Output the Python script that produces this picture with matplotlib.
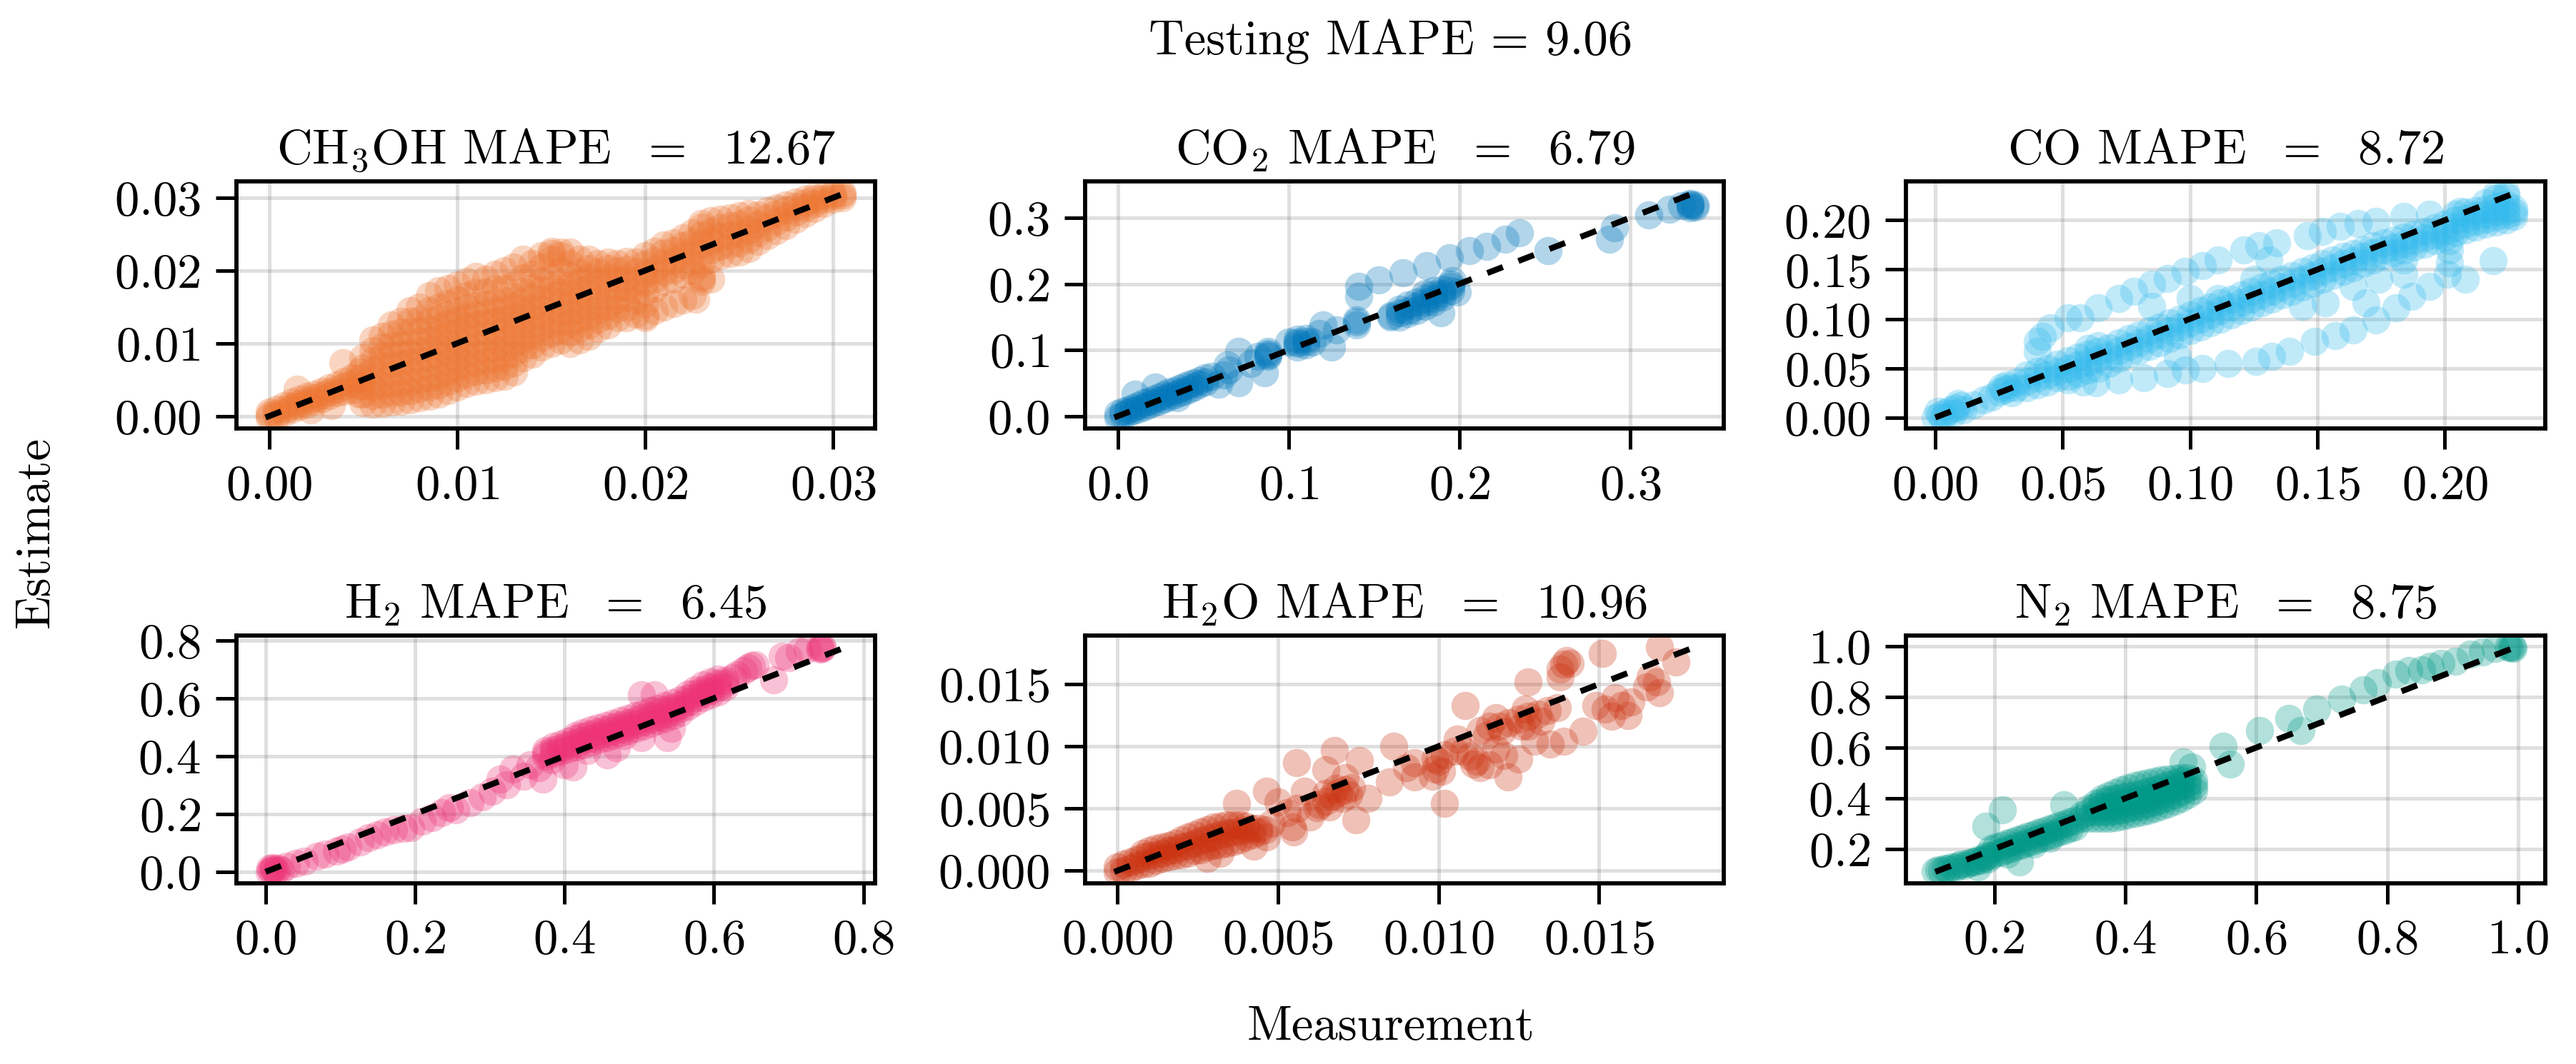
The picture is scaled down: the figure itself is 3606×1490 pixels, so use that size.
import numpy as np
import matplotlib
matplotlib.use("Agg")
import matplotlib.pyplot as plt

plt.rcParams.update({
    "font.family": "serif",
    "font.serif": ["cmr10"],
    "mathtext.fontset": "cm",
    "axes.unicode_minus": False,
    "axes.formatter.use_mathtext": True,
    "font.size": 16.5,
    "axes.titlesize": 16.5,
})

OVERALL_MAPE = "9.06"
SPECIES = [r"CH$_3$OH", r"CO$_2$", "CO", r"H$_2$", r"H$_2$O", r"N$_2$"]
MAPES = ["12.67", "6.79", "8.72", "6.45", "10.96", "8.75"]
COLORS = ["#EE7733", "#0077BB", "#33BBEE", "#EE3377", "#CC3311", "#009988"]
TICKS = [
    [0.0, 0.01, 0.02, 0.03],
    [0.0, 0.1, 0.2, 0.3],
    [0.0, 0.05, 0.10, 0.15, 0.20],
    [0.0, 0.2, 0.4, 0.6, 0.8],
    [0.0, 0.005, 0.010, 0.015],
    [0.2, 0.4, 0.6, 0.8, 1.0],
]

# CH3OH values are in units of 1e-3
CH3OH_SCALE = 1e-3
CH3OH_COLS = [
    (0.0, [-0.2, 0.2, 0.6]), (0.4, [0.0, 0.4, 0.9]), (0.8, [0.5, 0.9, 1.4]),
    (1.2, [0.9, 1.3, 1.9]), (1.6, [1.3, 1.7, 2.3]), (2.0, [1.6, 2.1, 2.7]),
    (2.4, [2.0, 2.5, 3.0]), (2.8, [2.4, 2.9, 3.4]), (3.2, [2.8, 3.3, 3.9]),
    (3.6, [3.2, 3.7, 4.3]), (4.0, [3.4, 4.1, 4.8]), (4.4, [3.6, 4.5, 5.3]),
    (4.8, [3.0, 4.2, 5.2, 6.0]),
    (5.0, [1.8, 3.0, 4.2, 5.4, 6.6, 8.0]),
    (5.5, [1.6, 2.8, 4.0, 5.2, 6.4, 7.6, 9.0, 10.5]),
    (6.0, [1.7, 3.0, 4.3, 5.6, 6.9, 8.2, 9.5, 11.0]),
    (6.5, [1.9, 3.2, 4.5, 5.8, 7.1, 8.4, 9.7, 11.2, 12.5]),
    (7.0, [2.0, 3.3, 4.6, 5.9, 7.2, 8.5, 9.8, 11.5, 13.0]),
    (7.5, [2.2, 3.5, 4.8, 6.1, 7.4, 8.7, 10.0, 11.5, 13.0, 14.5]),
    (8.0, [2.5, 3.8, 5.1, 6.4, 7.7, 9.0, 10.3, 11.6, 13.2, 15.0]),
    (8.5, [2.7, 4.0, 5.3, 6.6, 7.9, 9.2, 10.5, 11.8, 13.0, 14.5, 16.5]),
    (9.0, [3.0, 4.3, 5.6, 6.9, 8.2, 9.5, 10.8, 12.1, 13.4, 15.0, 17.2]),
    (9.5, [3.5, 4.8, 6.1, 7.4, 8.7, 10.0, 11.3, 12.6, 13.9, 15.5, 17.5]),
    (10.0, [4.0, 5.3, 6.6, 7.9, 9.2, 10.5, 11.8, 13.1, 14.4, 16.0, 18.0]),
    (10.5, [4.5, 5.8, 7.1, 8.4, 9.7, 11.0, 12.3, 13.6, 14.9, 16.5, 18.5]),
    (11.0, [4.8, 6.1, 7.4, 8.7, 10.0, 11.3, 12.6, 13.9, 15.2, 17.0, 19.2]),
    (11.5, [5.0, 6.3, 7.6, 8.9, 10.2, 11.5, 12.8, 14.1, 15.4, 17.0, 18.8]),
    (12.0, [5.3, 6.6, 7.9, 9.2, 10.5, 11.8, 13.1, 14.4, 15.7, 17.5, 19.5]),
    (12.5, [5.5, 6.8, 8.1, 9.4, 10.7, 12.0, 13.3, 14.6, 15.9, 17.5, 20.0]),
    (13.0, [6.0, 7.3, 8.6, 9.9, 11.2, 12.5, 13.8, 15.1, 16.4, 18.0, 20.5]),
    (13.5, [8.0, 9.3, 10.6, 11.9, 13.2, 14.5, 15.8, 17.1, 19.0, 21.5]),
    (14.0, [8.5, 9.8, 11.1, 12.4, 13.7, 15.0, 16.3, 17.6, 19.5, 21.0]),
    (14.5, [9.5, 10.8, 12.1, 13.4, 14.7, 16.0, 17.3, 18.6, 20.5, 22.0]),
    (15.0, [10.0, 11.3, 12.6, 13.9, 15.2, 16.5, 17.8, 19.0, 21.5, 22.3, 22.6]),
    (15.5, [10.5, 11.8, 13.1, 14.4, 15.7, 17.0, 18.3, 20.0, 22.0, 22.5]),
    (16.0, [10.0, 11.5, 12.8, 14.1, 15.4, 16.7, 18.0, 19.3, 21.0, 22.5]),
    (16.5, [10.5, 12.0, 13.3, 14.6, 15.9, 17.2, 18.5, 19.8, 21.5]),
    (17.0, [11.0, 12.5, 13.8, 15.1, 16.4, 17.7, 19.0, 20.3, 21.5]),
    (17.5, [12.0, 13.3, 14.6, 15.9, 17.2, 18.5, 19.8, 21.0]),
    (18.0, [12.5, 13.8, 15.1, 16.4, 17.7, 19.0, 20.3, 21.2]),
    (18.5, [13.5, 14.8, 16.1, 17.4, 18.7, 20.0, 21.0]),
    (19.0, [13.5, 15.0, 16.3, 17.6, 18.9, 20.2, 21.3]),
    (19.5, [14.0, 16.0, 17.3, 18.6, 19.9, 21.2]),
    (20.0, [13.5, 15.5, 17.0, 18.3, 19.6, 20.9, 22.0]),
    (20.5, [14.5, 17.5, 18.8, 20.1, 21.4, 22.6]),
    (21.0, [15.0, 18.5, 19.8, 21.1, 22.4, 23.5]),
    (21.5, [15.5, 18.8, 20.1, 21.4, 22.7, 23.8]),
    (22.0, [16.0, 19.5, 20.8, 22.1, 23.4, 24.5]),
    (22.5, [16.5, 20.0, 21.3, 22.6, 23.9, 25.2]),
    (23.0, [18.5, 18.9, 19.2, 21.0, 22.3, 23.6, 24.9, 26.0, 26.5]),
    (23.5, [18.8, 21.5, 22.8, 24.1, 25.4, 26.8]),
    (24.0, [22.0, 23.3, 24.6, 25.9, 27.0]),
    (24.5, [22.3, 23.6, 24.9, 26.2, 27.2]),
    (25.0, [22.5, 23.8, 25.1, 26.4, 27.5]),
    (25.5, [23.0, 24.3, 25.6, 26.9, 27.8]),
    (26.0, [24.0, 25.2, 26.4, 27.6]),
    (26.5, [24.8, 26.0, 27.2, 28.2]),
    (27.0, [25.5, 26.7, 27.8, 28.6]),
    (27.5, [26.2, 27.3, 28.3, 29.0]),
    (28.0, [27.0, 28.0, 28.8, 29.4]),
    (28.5, [27.8, 28.6, 29.3, 29.8]),
    (29.0, [28.5, 29.2, 29.8, 30.2]),
    (29.5, [29.2, 29.8, 30.3]),
    (30.0, [29.8, 30.3, 30.6]),
    (30.5, [30.0, 30.4, 30.7]),
]
CH3OH_EXTRA = [(1.5, 3.7), (3.9, 7.3), (2.2, 0.8), (3.3, 1.4), (22.7, 16.1), (20.0, 13.8)]

CO2_COLS = [
    (0.000, [-0.002, 0.004]), (0.003, [0.002, 0.007]), (0.006, [0.005, 0.010]),
    (0.009, [0.008, 0.013]), (0.012, [0.011, 0.016]), (0.015, [0.014, 0.020]),
    (0.018, [0.017, 0.023]), (0.021, [0.020, 0.026]), (0.024, [0.023, 0.029]),
    (0.027, [0.026, 0.032]), (0.030, [0.029, 0.036]), (0.033, [0.032, 0.039]),
    (0.036, [0.035, 0.042]), (0.039, [0.038, 0.045]), (0.042, [0.041, 0.048]),
    (0.045, [0.044, 0.051]), (0.048, [0.048, 0.054]), (0.051, [0.052, 0.058]),
    (0.088, [0.090, 0.093, 0.095, 0.098]),
    (0.105, [0.105, 0.110, 0.112, 0.116]), (0.110, [0.108, 0.113, 0.118]),
    (0.140, [0.138, 0.142, 0.145]),
    (0.160, [0.150, 0.152]), (0.165, [0.150, 0.156, 0.162]), (0.170, [0.155, 0.160, 0.168]),
    (0.175, [0.160, 0.166, 0.172]), (0.180, [0.166, 0.172, 0.178, 0.186]),
    (0.185, [0.172, 0.178, 0.184, 0.190]), (0.190, [0.180, 0.186, 0.192]),
    (0.195, [0.190, 0.196, 0.200]),
    (0.335, [0.315, 0.318, 0.320, 0.322]), (0.338, [0.316, 0.319]),
]
CO2_EXTRA = [
    (0.010, 0.033), (0.022, 0.044), (0.059, 0.048), (0.071, 0.051), (0.064, 0.077),
    (0.071, 0.098), (0.086, 0.066), (0.062, 0.062), (0.055, 0.060), (0.078, 0.080),
    (0.082, 0.090), (0.035, 0.028), (0.065, 0.070), (0.100, 0.112), (0.114, 0.112),
    (0.125, 0.105), (0.120, 0.138), (0.118, 0.125), (0.128, 0.130),
    (0.189, 0.156), (0.199, 0.188), (0.196, 0.205),
    (0.141, 0.181), (0.141, 0.196), (0.153, 0.206), (0.167, 0.217), (0.181, 0.228),
    (0.194, 0.239), (0.206, 0.250), (0.216, 0.257), (0.227, 0.268), (0.235, 0.277),
    (0.252, 0.250), (0.288, 0.268), (0.291, 0.285), (0.311, 0.304), (0.323, 0.313),
    (0.330, 0.318),
]

CO_COLS = [
    (0.000, [0.000]), (0.002, [0.003]), (0.004, [0.005]), (0.006, [0.008]),
    (0.008, [0.010]), (0.010, [0.012]), (0.003, [0.000]), (0.007, [0.004]),
    (0.011, [0.008]), (0.001, [0.006]), (0.009, [0.014]),
    (0.025, [0.026]), (0.027, [0.028]), (0.029, [0.030]), (0.026, [0.031]),
    (0.030, [0.025]), (0.028, [0.033]),
    (0.032, [0.030, 0.036]), (0.036, [0.030, 0.037, 0.043]),
    (0.040, [0.033, 0.040, 0.047]), (0.044, [0.036, 0.043, 0.050]),
    (0.048, [0.040, 0.047, 0.054]), (0.052, [0.042, 0.050, 0.058]),
    (0.056, [0.045, 0.053, 0.061]), (0.060, [0.048, 0.056, 0.064, 0.070]),
    (0.064, [0.050, 0.059, 0.067, 0.073]), (0.068, [0.055, 0.063, 0.071]),
    (0.072, [0.060, 0.068, 0.076]), (0.076, [0.064, 0.072, 0.080]),
    (0.080, [0.068, 0.076, 0.084]), (0.084, [0.072, 0.080, 0.088]),
    (0.088, [0.076, 0.084, 0.092]), (0.092, [0.080, 0.088, 0.096]),
    (0.096, [0.084, 0.092, 0.100]), (0.100, [0.088, 0.096, 0.104]),
    (0.104, [0.092, 0.100, 0.108]), (0.108, [0.096, 0.104, 0.112]),
    (0.112, [0.100, 0.108, 0.116]), (0.116, [0.104, 0.112, 0.120]),
    (0.120, [0.108, 0.116, 0.124]), (0.124, [0.112, 0.120, 0.128]),
    (0.128, [0.116, 0.124, 0.132]), (0.132, [0.120, 0.128, 0.136]),
    (0.136, [0.124, 0.132, 0.140]), (0.140, [0.128, 0.136, 0.144]),
    (0.144, [0.132, 0.140, 0.148]), (0.148, [0.136, 0.144, 0.152]),
    (0.152, [0.140, 0.148, 0.156]), (0.156, [0.144, 0.152, 0.160]),
    (0.160, [0.148, 0.156, 0.163]), (0.164, [0.152, 0.159, 0.166]),
    (0.168, [0.156, 0.163, 0.170]), (0.172, [0.160, 0.167, 0.174]),
    (0.176, [0.164, 0.170, 0.177]), (0.180, [0.167, 0.173, 0.180]),
    (0.184, [0.170, 0.176, 0.183]), (0.188, [0.173, 0.179, 0.186]),
    (0.192, [0.176, 0.182, 0.189]), (0.196, [0.179, 0.185, 0.192]),
    (0.200, [0.183, 0.189, 0.196]), (0.204, [0.187, 0.193, 0.200, 0.206]),
    (0.208, [0.190, 0.196, 0.202, 0.208]), (0.212, [0.193, 0.199, 0.205, 0.210]),
    (0.216, [0.196, 0.201, 0.206, 0.211, 0.218]),
    (0.220, [0.198, 0.203, 0.208, 0.214, 0.222, 0.226]),
    (0.224, [0.200, 0.205, 0.210, 0.216, 0.224, 0.228]),
    (0.227, [0.204, 0.208, 0.212]),
]
CO_EXTRA = [
    (0.015, 0.013), (0.019, 0.018), (0.022, 0.021),
    # upper arc
    (0.040, 0.067), (0.040, 0.077), (0.042, 0.082), (0.045, 0.091), (0.052, 0.101),
    (0.057, 0.101), (0.064, 0.111), (0.072, 0.121), (0.078, 0.128), (0.085, 0.135),
    (0.091, 0.141), (0.098, 0.148), (0.105, 0.154), (0.111, 0.160), (0.121, 0.170),
    (0.127, 0.174), (0.134, 0.177), (0.146, 0.184), (0.152, 0.189), (0.159, 0.194),
    (0.166, 0.197), (0.173, 0.199), (0.184, 0.204), (0.194, 0.206), (0.206, 0.209),
    # lower arc
    (0.052, 0.038), (0.058, 0.036), (0.063, 0.035), (0.072, 0.038), (0.082, 0.040),
    (0.091, 0.045), (0.098, 0.048), (0.105, 0.050), (0.115, 0.055), (0.126, 0.057),
    (0.132, 0.062), (0.139, 0.067), (0.149, 0.077), (0.157, 0.083), (0.164, 0.089),
    (0.173, 0.099), (0.181, 0.111), (0.187, 0.123), (0.194, 0.133), (0.201, 0.145),
    (0.202, 0.157), (0.202, 0.170), (0.202, 0.179),
    # scattered
    (0.208, 0.140), (0.219, 0.159), (0.169, 0.116), (0.164, 0.133), (0.174, 0.140),
    (0.153, 0.116), (0.125, 0.140), (0.131, 0.160), (0.111, 0.121), (0.100, 0.121),
    (0.095, 0.062), (0.085, 0.113), (0.144, 0.113), (0.184, 0.160), (0.184, 0.145),
]

H2_COLS = [
    (0.375, [0.400, 0.410, 0.420]), (0.385, [0.410, 0.422, 0.434]),
    (0.395, [0.418, 0.430, 0.442]), (0.405, [0.425, 0.438, 0.452]),
    (0.415, [0.432, 0.446, 0.460, 0.472]), (0.425, [0.440, 0.454, 0.468, 0.482]),
    (0.435, [0.448, 0.462, 0.476, 0.490]), (0.445, [0.456, 0.470, 0.484, 0.498]),
    (0.455, [0.464, 0.478, 0.492, 0.506]), (0.465, [0.472, 0.486, 0.500, 0.514]),
    (0.475, [0.480, 0.494, 0.508, 0.522]), (0.485, [0.488, 0.502, 0.516, 0.530]),
    (0.495, [0.496, 0.510, 0.524, 0.540]), (0.505, [0.504, 0.518, 0.532, 0.548]),
    (0.515, [0.513, 0.527, 0.541, 0.557]), (0.525, [0.522, 0.536, 0.550, 0.566]),
    (0.535, [0.531, 0.545, 0.559, 0.575]), (0.545, [0.540, 0.554, 0.568, 0.584]),
    (0.555, [0.550, 0.564, 0.578, 0.594]), (0.565, [0.572, 0.586, 0.600, 0.615]),
    (0.575, [0.588, 0.602, 0.616, 0.630]), (0.585, [0.602, 0.616, 0.630, 0.645]),
    (0.595, [0.612, 0.626, 0.640, 0.655]), (0.605, [0.622, 0.636, 0.650, 0.665]),
    (0.615, [0.638, 0.650, 0.662]),
    (0.645, [0.705]), (0.650, [0.712]), (0.655, [0.715]), (0.640, [0.695]),
    (0.742, [0.770, 0.774]), (0.745, [0.772, 0.777]),
]
H2_EXTRA = [
    (0.005, 0.000), (0.008, 0.005), (0.011, 0.010), (0.014, 0.004), (0.017, 0.012),
    (0.020, 0.008), (0.010, 0.015), (0.006, 0.012),
    (0.028, 0.020), (0.040, 0.029), (0.052, 0.038), (0.069, 0.054), (0.080, 0.062),
    (0.095, 0.072), (0.103, 0.079), (0.110, 0.085), (0.126, 0.104), (0.138, 0.118),
    (0.149, 0.129), (0.160, 0.138), (0.171, 0.146), (0.185, 0.150), (0.194, 0.154),
    (0.210, 0.175), (0.223, 0.188), (0.235, 0.205), (0.246, 0.221), (0.255, 0.215),
    (0.274, 0.238), (0.290, 0.260), (0.303, 0.279), (0.314, 0.321), (0.322, 0.300),
    (0.331, 0.354), (0.345, 0.330), (0.354, 0.371), (0.365, 0.360), (0.371, 0.321),
    (0.383, 0.388), (0.411, 0.363), (0.400, 0.371),
    (0.457, 0.404), (0.503, 0.463), (0.537, 0.463), (0.543, 0.496), (0.503, 0.612),
    (0.520, 0.612), (0.480, 0.470), (0.430, 0.420), (0.470, 0.430),
    (0.625, 0.670), (0.630, 0.680), (0.680, 0.663), (0.691, 0.746), (0.714, 0.762),
    (0.700, 0.740), (0.725, 0.770),
]

# H2O values are in units of 1e-3
H2O_SCALE = 1e-3
H2O_COLS = [
    (0.0, [-0.1, 0.3]), (0.2, [0.0, 0.5]), (0.4, [0.2, 0.7]), (0.6, [0.4, 0.9]),
    (0.8, [0.5, 1.1, 1.4]), (1.0, [0.6, 1.2, 1.6]), (1.2, [0.8, 1.3, 1.8]),
    (1.4, [1.0, 1.4, 1.9]), (1.6, [1.1, 1.6, 2.0]), (1.8, [1.2, 1.7, 2.2]),
    (2.0, [1.3, 1.9, 2.5]), (2.2, [1.4, 2.0, 2.7]), (2.4, [1.6, 2.2, 2.9]),
    (2.6, [1.7, 2.4, 3.1]), (2.8, [1.9, 2.6, 3.3]), (3.0, [2.0, 2.7, 3.5]),
    (3.2, [2.1, 2.9, 3.6]), (3.4, [2.2, 3.0, 3.7]), (3.6, [2.3, 3.1, 3.7]),
    (3.8, [2.5, 3.2, 3.7]), (4.0, [2.7, 3.3, 3.6]), (4.2, [2.9, 3.4]),
    (4.4, [3.1, 3.4]), (4.6, [3.3]),
    (6.3, [5.3]), (6.5, [5.6]), (6.7, [6.0]), (6.9, [6.3]), (7.1, [6.5]), (7.3, [6.7]),
    (6.6, [5.1]), (7.0, [5.8]), (6.8, [6.6]), (7.2, [6.1]),
    (9.8, [7.6]), (9.9, [8.2, 9.0]), (10.0, [8.8]), (10.1, [8.0]), (10.2, [9.3]),
    (10.5, [9.6]), (10.8, [9.6]), (11.0, [9.2]), (11.1, [8.6]), (11.2, [8.8]), (11.3, [8.3]),
    (11.3, [11.3]), (11.6, [11.6]), (11.9, [11.6]), (12.2, [11.9]), (12.5, [12.2]),
    (12.8, [12.4]), (13.1, [12.6]), (13.4, [12.9]), (13.7, [13.1]), (11.5, [10.9]),
    (12.0, [11.2]), (12.6, [11.6]), (13.2, [12.0]), (11.8, [12.3]), (12.7, [13.0]),
    (13.9, [16.6]), (14.0, [16.9]), (14.1, [16.7]), (13.8, [16.2]),
]
H2O_EXTRA = [
    (4.25, 1.96), (3.19, 1.38), (4.64, 2.73), (2.8, 1.0), (4.8, 3.8),
    (3.72, 5.42), (4.64, 6.38), (5.57, 8.69), (6.75, 9.65), (6.49, 8.12), (7.55, 8.88),
    (5.83, 6.38), (5.30, 4.65), (5.44, 3.5), (5.5, 3.12), (6.23, 5.04), (6.49, 6.19),
    (7.42, 4.08), (7.81, 5.81), (8.47, 7.15), (9.0, 8.31), (9.26, 7.54), (10.18, 5.42),
    (10.84, 13.3), (8.6, 10.0), (9.26, 8.69), (5.0, 5.5), (5.6, 5.0), (7.1, 7.5), (6.0, 4.3),
    (12.16, 7.54), (12.03, 9.27), (13.48, 10.2), (12.8, 11.6), (12.8, 15.2), (11.6, 8.5),
    (12.5, 9.0), (13.0, 10.4), (14.5, 11.2), (13.9, 10.4), (11.8, 9.8), (10.6, 10.6),
    (15.1, 17.5), (16.9, 18.0), (17.4, 16.8), (13.8, 15.6),
    (14.9, 13.3), (15.5, 13.9), (15.7, 13.3), (16.5, 14.8), (16.8, 15.2), (16.9, 14.3),
    (15.9, 12.5), (15.2, 13.0), (16.0, 13.6), (15.4, 12.4), (16.6, 15.6),
]

N2_COLS = [
    (0.195, [0.175, 0.200]), (0.203, [0.183, 0.208]), (0.211, [0.190, 0.215]),
    (0.219, [0.197, 0.222]), (0.227, [0.204, 0.229]), (0.235, [0.211, 0.236]),
    (0.243, [0.218, 0.243]), (0.251, [0.225, 0.250]), (0.259, [0.232, 0.257]),
    (0.267, [0.239, 0.264]), (0.275, [0.246, 0.271]), (0.283, [0.253, 0.278]),
    (0.291, [0.260, 0.285]), (0.299, [0.267, 0.292]), (0.307, [0.274, 0.299]),
    (0.315, [0.281, 0.306]), (0.323, [0.288, 0.313]),
    (0.335, [0.320, 0.335]), (0.345, [0.320, 0.345, 0.360]),
    (0.355, [0.320, 0.345, 0.370, 0.380]),
    (0.365, [0.320, 0.345, 0.370, 0.390, 0.400]),
    (0.375, [0.320, 0.345, 0.370, 0.395, 0.412]),
    (0.385, [0.325, 0.350, 0.375, 0.400, 0.422]),
    (0.395, [0.330, 0.355, 0.380, 0.405, 0.433]),
    (0.405, [0.335, 0.360, 0.385, 0.410, 0.442]),
    (0.415, [0.340, 0.365, 0.390, 0.415, 0.450]),
    (0.425, [0.345, 0.370, 0.395, 0.420, 0.457]),
    (0.435, [0.352, 0.377, 0.402, 0.427, 0.462]),
    (0.445, [0.360, 0.385, 0.410, 0.435, 0.467]),
    (0.455, [0.368, 0.393, 0.418, 0.443, 0.472]),
    (0.465, [0.378, 0.403, 0.428, 0.453, 0.476]),
    (0.475, [0.388, 0.413, 0.438, 0.460, 0.480]),
    (0.485, [0.400, 0.425, 0.450, 0.470, 0.482]),
    (0.495, [0.415, 0.440, 0.460, 0.482]),
    (0.505, [0.430, 0.450, 0.470]),
]
N2_EXTRA = [
    (0.110, 0.112), (0.115, 0.118), (0.120, 0.115), (0.125, 0.125), (0.130, 0.120),
    (0.135, 0.130), (0.140, 0.128), (0.145, 0.135), (0.150, 0.140), (0.155, 0.135),
    (0.160, 0.145), (0.165, 0.150), (0.170, 0.148), (0.175, 0.158), (0.180, 0.155),
    (0.185, 0.165), (0.188, 0.175), (0.190, 0.160),
    (0.187, 0.290), (0.213, 0.356), (0.306, 0.375), (0.239, 0.148), (0.284, 0.242),
    (0.175, 0.130), (0.220, 0.180), (0.260, 0.220),
    (0.489, 0.544), (0.502, 0.525), (0.550, 0.606), (0.560, 0.535), (0.605, 0.667),
    (0.650, 0.714), (0.669, 0.667), (0.692, 0.752), (0.731, 0.790), (0.763, 0.827),
    (0.785, 0.856), (0.814, 0.889), (0.833, 0.903), (0.853, 0.908), (0.866, 0.922),
    (0.882, 0.931), (0.904, 0.940), (0.927, 0.969), (0.946, 0.978), (0.965, 0.992),
    (0.985, 0.997), (0.991, 0.996), (0.993, 0.990), (0.988, 0.993),
]

DATA = [
    (CH3OH_COLS, CH3OH_EXTRA, CH3OH_SCALE),
    (CO2_COLS, CO2_EXTRA, 1.0),
    (CO_COLS, CO_EXTRA, 1.0),
    (H2_COLS, H2_EXTRA, 1.0),
    (H2O_COLS, H2O_EXTRA, H2O_SCALE),
    (N2_COLS, N2_EXTRA, 1.0),
]


def flatten(cols, extra, scale):
    meas, est = [], []
    for x, ys in cols:
        for y in ys:
            meas.append(x)
            est.append(y)
    for x, y in extra:
        meas.append(x)
        est.append(y)
    return np.array(meas) * scale, np.array(est) * scale


LEFTS = [0.0918, 0.4213, 0.740]
BOTTOMS = [0.597, 0.170]
WIDTH, HEIGHT = 0.248, 0.2325

fig = plt.figure(figsize=(12.02, 4.967), dpi=300)

for i, (cols, extra, scale) in enumerate(DATA):
    row, col = divmod(i, 3)
    ax = fig.add_axes([LEFTS[col], BOTTOMS[row], WIDTH, HEIGHT])
    meas, est = flatten(cols, extra, scale)
    ax.scatter(meas, est, s=90, color=COLORS[i], alpha=0.3, linewidths=0, zorder=2)
    lo = min(meas.min(), est.min())
    hi = max(meas.max(), est.max())
    ax.plot([lo, hi], [lo, hi], color="black", lw=2.0, ls=(0, (2.8, 2.8)), zorder=3)
    ax.set_xticks(TICKS[i])
    ax.set_yticks(TICKS[i])
    ax.grid(True, color="gray", alpha=0.25, lw=1.2)
    ax.set_axisbelow(True)
    for sp in ax.spines.values():
        sp.set_linewidth(1.4)
    ax.tick_params(direction="out", length=7, width=1.2, pad=5)
    ax.set_title(f"{SPECIES[i]} MAPE " + r"$\;=\;$" + f" {MAPES[i]}", pad=6)

cx = LEFTS[0] + (LEFTS[2] + WIDTH - LEFTS[0]) / 2
cy = BOTTOMS[1] + (BOTTOMS[0] + HEIGHT - BOTTOMS[1]) / 2
fig.text(cx, 0.961, f"Testing MAPE = {OVERALL_MAPE}", ha="center", va="center")
fig.text(cx, 0.035, "Measurement", ha="center", va="center")
fig.text(0.014, cy, "Estimate", ha="center", va="center", rotation=90)

fig.savefig("out.png", dpi=300)
